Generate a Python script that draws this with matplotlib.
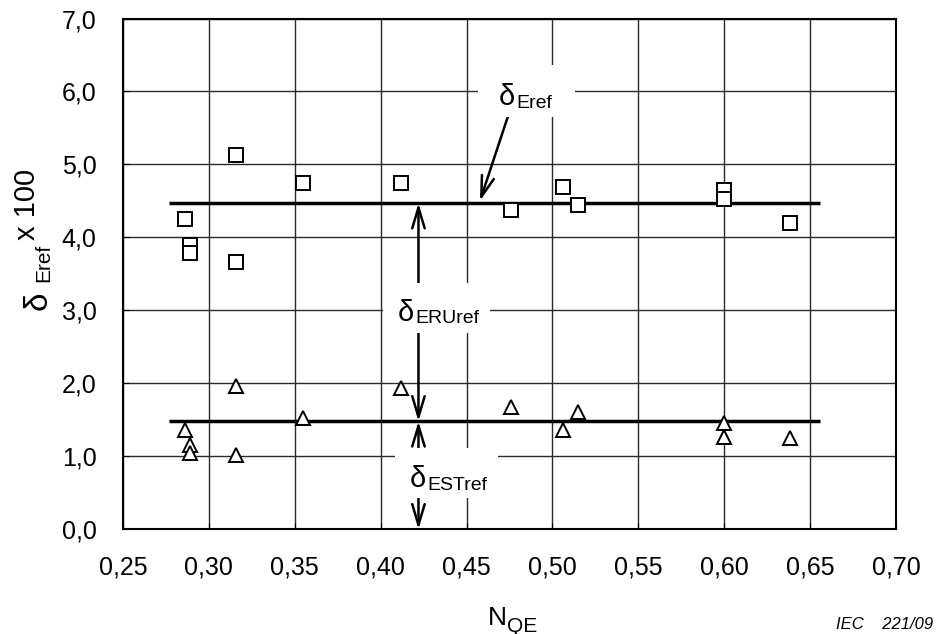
import matplotlib.pyplot as plt
from matplotlib.patches import Rectangle

plt.rcParams['font.family'] = ['Liberation Sans', 'DejaVu Sans']

# N_QE of each measurement and the two reference quantities (x 100)
nqe = [0.286, 0.289, 0.289, 0.316, 0.316, 0.355, 0.412, 0.476, 0.506, 0.515, 0.600, 0.600, 0.638]
d_eref = [4.25, 3.90, 3.79, 5.13, 3.66, 4.74, 4.74, 4.38, 4.69, 4.44, 4.65, 4.53, 4.20]
d_est = [1.36, 1.16, 1.04, 1.97, 1.02, 1.52, 1.93, 1.67, 1.36, 1.61, 1.46, 1.27, 1.25]

# mean values drawn as horizontal lines
eref_mean = 4.47
est_mean = 1.48
mean_from, mean_to = 0.277, 0.656

x_ticks = [0.25, 0.30, 0.35, 0.40, 0.45, 0.50, 0.55, 0.60, 0.65, 0.70]
y_ticks = [0, 1, 2, 3, 4, 5, 6, 7]

fig = plt.figure(figsize=(9.36, 6.34), dpi=100)
ax = fig.add_axes([0.1314, 0.1651, 0.8259, 0.8057])
ax.set_xlim(0.25, 0.70)
ax.set_ylim(0, 7)

ax.set_xticks(x_ticks)
ax.set_xticklabels([f"{v:.2f}".replace('.', ',') for v in x_ticks])
ax.set_yticks(y_ticks)
ax.set_yticklabels([f"{v:.1f}".replace('.', ',') for v in y_ticks])
ax.tick_params(axis='both', direction='in', length=4, labelsize=18)
ax.tick_params(axis='x', pad=18.5)
ax.tick_params(axis='y', pad=19)
for sp in ax.spines.values():
    sp.set_linewidth(1.5)

ax.grid(True, color='#2a2a2a', lw=1.0)
ax.set_axisbelow(True)

ax.hlines([eref_mean, est_mean], mean_from, mean_to, color='black', lw=2.5, zorder=3)
ax.plot(nqe, d_eref, 's', ms=9.8, mfc='white', mec='black', mew=1.4, zorder=4)
ax.plot(nqe, d_est, '^', ms=10.5, mfc='white', mec='black', mew=1.4, zorder=4)

arrow = dict(arrowstyle='->,head_length=1.5,head_width=0.45', lw=1.8, color='black',
             shrinkA=0, shrinkB=0)

# spread between the two means, and below the lower mean
x_mark = 0.422
for start, end in [(3.0, eref_mean), (3.0, est_mean), (0.77, est_mean), (0.77, 0.0)]:
    ax.annotate('', xy=(x_mark, end), xytext=(x_mark, start), arrowprops=arrow,
                annotation_clip=False, zorder=5)
ax.annotate('', xy=(0.4578, 4.50), xytext=(0.4741, 5.66), arrowprops=arrow, zorder=5)


def delta_label(x, y, sub, box, size=21, sub_size=14):
    # box = (left offset, width, height above baseline, depth below baseline) in pixels
    ax.text(x, y, 'δ', fontsize=size, ha='left', va='baseline', zorder=7)
    ax.annotate(sub, xy=(x, y), xytext=(0.6 * size, -0.09 * size),
                textcoords='offset points', fontsize=sub_size,
                ha='left', va='baseline', zorder=7)
    px, py = ax.transData.transform((x, y))
    dx, w, up, down = box
    inv = ax.transData.inverted()
    (x0, y0), (x1, y1) = inv.transform([[px + dx, py - down], [px + dx + w, py + up]])
    ax.add_patch(Rectangle((x0, y0), x1 - x0, y1 - y0, fc='white', ec='none', zorder=6))


delta_label(0.4689, 5.81, 'Eref', (-21, 97, 40, 12))
delta_label(0.4099, 2.86, 'ERUref', (-15, 107, 38, 12))
delta_label(0.4169, 0.58, 'ESTref', (-15, 103, 39, 11))

# y axis title pieces, rotated
fig.text(47 / 936, 1 - 310 / 634, 'δ', fontsize=24, rotation=90,
         rotation_mode='anchor', ha='left', va='baseline')
fig.text(49 / 936, 1 - 282 / 634, 'Eref', fontsize=15, rotation=90,
         rotation_mode='anchor', ha='left', va='baseline')
fig.text(35 / 936, 1 - 240 / 634, 'x 100', fontsize=21, rotation=90,
         rotation_mode='anchor', ha='left', va='baseline')

# x axis title
fig.text(487.7 / 936, 1 - 625 / 634, 'N', fontsize=19, ha='left', va='baseline')
fig.text(507.5 / 936, 1 - 631.5 / 634, 'QE', fontsize=15, ha='left', va='baseline')

fig.text(933 / 936, 1 - 628.7 / 634, 'IEC    221/09', fontsize=12, style='italic',
         ha='right', va='baseline')

fig.savefig('out.png', dpi=100)
